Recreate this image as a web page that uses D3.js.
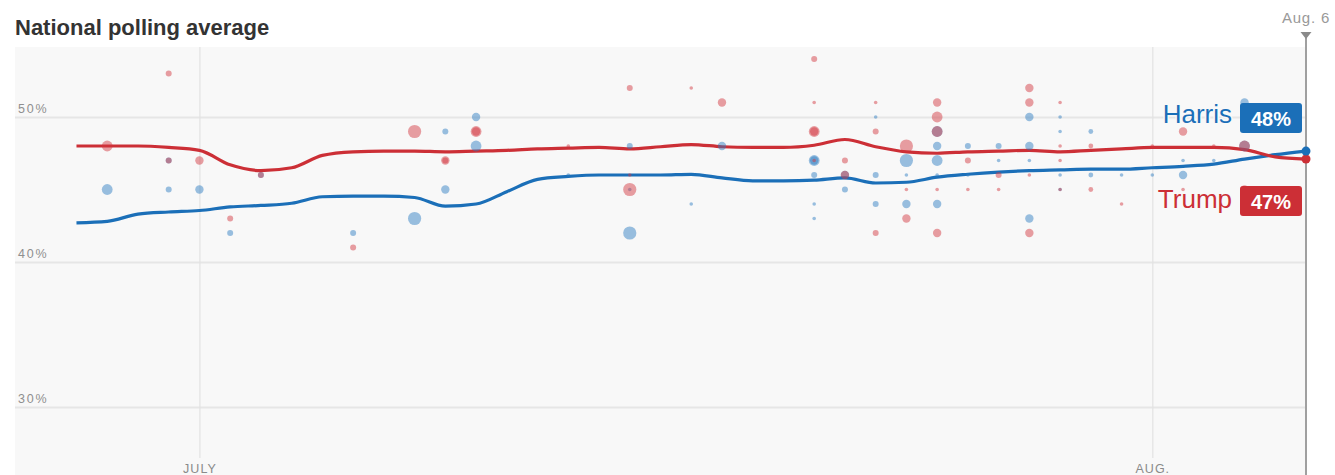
<!DOCTYPE html>
<html>
<head>
<meta charset="utf-8">
<script src="https://cdn.jsdelivr.net/npm/d3@7"></script>
<style>
  html, body { margin: 0; padding: 0; background: #ffffff; }
  svg { display: block; font-family: "Liberation Sans", Arial, sans-serif; }
</style>
</head>
<body>
<svg id="chart" width="1335" height="475"></svg>
<script>
// ---------------- DATA ----------------
const titleText = "National polling average";
const domainStart = "2024-06-25";
const domainEnd = "2024-08-06";
const avgStart = "2024-06-27";           // first day of the averages below (one value per day)
const harrisAvg = [42.7, 42.8, 43.3, 43.45, 43.55, 43.8, 43.9, 44.05, 44.5, 44.55,
  44.55, 44.45, 43.85, 44.0, 44.85, 45.7, 45.9, 46.0, 46.0, 46.0,
  46.05, 45.8, 45.6, 45.6, 45.65, 45.8, 45.45, 45.5, 45.85, 46.05,
  46.2, 46.3, 46.35, 46.4, 46.4, 46.5, 46.6, 46.75, 47.1, 47.4, 47.65];
const trumpAvg = [48.0, 48.0, 48.0, 47.9, 47.7, 46.7, 46.3, 46.5, 47.35, 47.6,
  47.65, 47.65, 47.6, 47.65, 47.7, 47.8, 47.85, 47.9, 47.8, 47.95,
  48.1, 47.95, 47.9, 47.9, 48.05, 48.45, 47.95, 47.6, 47.5, 47.6,
  47.65, 47.7, 47.6, 47.7, 47.8, 47.9, 47.9, 47.9, 47.75, 47.25, 47.1];

const pollDates = ["2024-06-28","2024-06-30","2024-06-30","2024-07-01","2024-07-02","2024-07-03","2024-07-06",
  "2024-07-08","2024-07-09","2024-07-09","2024-07-10","2024-07-10","2024-07-13","2024-07-15","2024-07-15","2024-07-15",
  "2024-07-17","2024-07-18","2024-07-21","2024-07-21","2024-07-21","2024-07-21","2024-07-21","2024-07-22","2024-07-22",
  "2024-07-23","2024-07-23","2024-07-23","2024-07-24","2024-07-24","2024-07-24","2024-07-25","2024-07-25","2024-07-25",
  "2024-07-25","2024-07-25","2024-07-26","2024-07-26","2024-07-27","2024-07-27","2024-07-28","2024-07-28","2024-07-28",
  "2024-07-28","2024-07-29","2024-07-29","2024-07-29","2024-07-29","2024-07-30","2024-07-30","2024-07-31","2024-08-01",
  "2024-08-02","2024-08-02","2024-08-03","2024-08-04","2024-08-04"];
const pollHarris = [45,47,45,45,42,46,42, 43,49,45,50,48,46,48,42,45, 44,48,46,44,47,47,43,46,45,
  50,46,44,47,46,44,48,47,49, 46,44,48,46,48,47,50,48,47, 43,50,49,46,45,49,46,46,46, 46,47,47,51,48];
const pollTrump = [48,53,47,47,43,46,41, 49,47,47,49,49,48,52,45,46, 52,51,54,51,49,49,47,46,47,
  51,49,42,48,45,43,51,50,49, 45,42,47,45,46,45,52,51,46, 42,51,48,47,45,48,45,44,48, 49,45,48,45,48];
const pollWeight = [4,2,2,3,2,2,2, 5,2,3,3,4,1,2,5,1, 1,3,2,1,4,3,1,3,2,
  1,2,2,5,1,3,3,4,4, 1,3,2,1,2,1,3,3,1, 3,1,1,1,1,1.5,1.5,1,1, 3,1,1,3,4];

const yTickValues = [30, 40, 50];
const yTickLabels = ["30%", "40%", "50%"];
const xTickDates = ["2024-07-01", "2024-08-01"];
const xTickLabels = ["JULY", "AUG."];
const markerLabel = "Aug. 6";
const candidates = ["Harris", "Trump"];
const finalLabels = ["48%", "47%"];

// ---------------- STYLE ----------------
const BLUE = "#1b6fb8", RED = "#cc2f36";
const W = 1335, H = 475;
const plotL = 15, plotR = 1306, plotT = 47, plotB = 475;

const parse = d3.timeParse("%Y-%m-%d");
const svg = d3.select("#chart");

const x = d3.scaleTime().domain([parse(domainStart), parse(domainEnd)]).range([plotL, plotR]);
const y = d3.scaleLinear().domain([25, 55]).range([479.5, 44.5]);
const r = d3.scaleLinear().domain([1, 5]).range([1.8, 6.6]);

// title
svg.append("text").attr("x", 15).attr("y", 34.5)
  .attr("font-size", 22).attr("font-weight", "bold").attr("fill", "#333")
  .text(titleText);

// plot background
svg.append("rect").attr("x", plotL).attr("y", plotT).attr("width", plotR - plotL).attr("height", plotB - plotT)
  .attr("fill", "#f8f8f8");

// horizontal grid
const yAxis = d3.axisRight(y).tickValues(yTickValues).tickSize(plotR - plotL)
  .tickFormat((d, i) => yTickLabels[i]);
const gy = svg.append("g").attr("transform", `translate(${plotL},0)`).call(yAxis);
gy.select(".domain").remove();
gy.selectAll(".tick line").attr("stroke", "#e6e6e6").attr("stroke-width", 2);
gy.selectAll(".tick text").attr("x", 3).attr("dy", -4.5).attr("text-anchor", "start")
  .attr("font-size", 12.5).attr("letter-spacing", 1.8).attr("fill", "#8f8f8f")
  .attr("font-family", "'Liberation Sans', Arial, sans-serif")
  .attr("dominant-baseline", "auto").attr("y", 0);

// vertical grid + x labels
const xAxis = d3.axisBottom(x).tickValues(xTickDates.map(parse))
  .tickFormat((d, i) => xTickLabels[i]).tickSize(458 - plotT);
const gx = svg.append("g").attr("transform", `translate(0,${plotT})`).call(xAxis);
gx.select(".domain").remove();
gx.selectAll(".tick line").attr("stroke", "#e2e2e2").attr("stroke-width", 1.2);
gx.selectAll(".tick text").attr("y", 426).attr("dy", 0)
  .attr("font-size", 12.5).attr("letter-spacing", 1).attr("fill", "#8a8a8a")
  .attr("font-family", "'Liberation Sans', Arial, sans-serif");

// average lines
const avgDate0 = parse(avgStart);
const avgData = (vals) => vals.map((v, i) => ({ date: d3.timeDay.offset(avgDate0, i), v }));
const line = d3.line().x(d => x(d.date)).y(d => y(d.v)).curve(d3.curveMonotoneX);
const hData = avgData(harrisAvg), tData = avgData(trumpAvg);
svg.append("path").datum(hData).attr("d", line).attr("fill", "none").attr("stroke", BLUE).attr("stroke-width", 3.2);
svg.append("path").datum(tData).attr("d", line).attr("fill", "none").attr("stroke", RED).attr("stroke-width", 3.2);

// poll dots
const polls = pollDates.map((d, i) => ({ date: parse(d), h: pollHarris[i], t: pollTrump[i], w: pollWeight[i] }));
svg.append("g").selectAll("circle").data(polls).join("circle")
  .attr("cx", d => x(d.date)).attr("cy", d => y(d.h)).attr("r", d => r(d.w))
  .attr("fill", "#2a7cc2").attr("fill-opacity", 0.47);
svg.append("g").selectAll("circle").data(polls).join("circle")
  .attr("cx", d => x(d.date)).attr("cy", d => y(d.t)).attr("r", d => r(d.w))
  .attr("fill", "#d2363d").attr("fill-opacity", 0.47);

// marker line at the last date
const xEnd = x(parse(domainEnd));
svg.append("line").attr("x1", xEnd).attr("x2", xEnd).attr("y1", 38).attr("y2", H)
  .attr("stroke", "#a0a0a0").attr("stroke-width", 2);
svg.append("path").attr("d", `M${xEnd - 5.5},32 L${xEnd + 5.5},32 L${xEnd},39 Z`).attr("fill", "#8a8a8a");
svg.append("text").attr("x", xEnd).attr("y", 23).attr("text-anchor", "middle")
  .attr("font-size", 15).attr("letter-spacing", 0.8).attr("fill", "#999").text(markerLabel);

// end dots
const hEnd = hData[hData.length - 1], tEnd = tData[tData.length - 1];
svg.append("circle").attr("cx", x(tEnd.date)).attr("cy", y(tEnd.v)).attr("r", 4.5).attr("fill", RED);
svg.append("circle").attr("cx", x(hEnd.date)).attr("cy", y(hEnd.v)).attr("r", 4.5).attr("fill", BLUE);

// end labels
function endLabel(name, value, color, yBase, boxTop) {
  const g = svg.append("g");
  g.append("text").attr("x", 1232).attr("y", yBase).attr("text-anchor", "end")
    .attr("font-size", 26).attr("fill", color)
    .attr("stroke", "#f8f8f8").attr("stroke-width", 3).attr("paint-order", "stroke")
    .text(name);
  g.append("rect").attr("x", 1240).attr("y", boxTop).attr("width", 62).attr("height", 30)
    .attr("rx", 3).attr("fill", color);
  g.append("text").attr("x", 1271).attr("y", boxTop + 23).attr("text-anchor", "middle")
    .attr("font-size", 20).attr("font-weight", "bold").attr("fill", "#fff").text(value);
}
endLabel(candidates[0], finalLabels[0], BLUE, y(hEnd.v) - 28, y(hEnd.v) - 48);
endLabel(candidates[1], finalLabels[1], RED, y(tEnd.v) + 49, y(tEnd.v) + 27);
</script>
</body>
</html>
